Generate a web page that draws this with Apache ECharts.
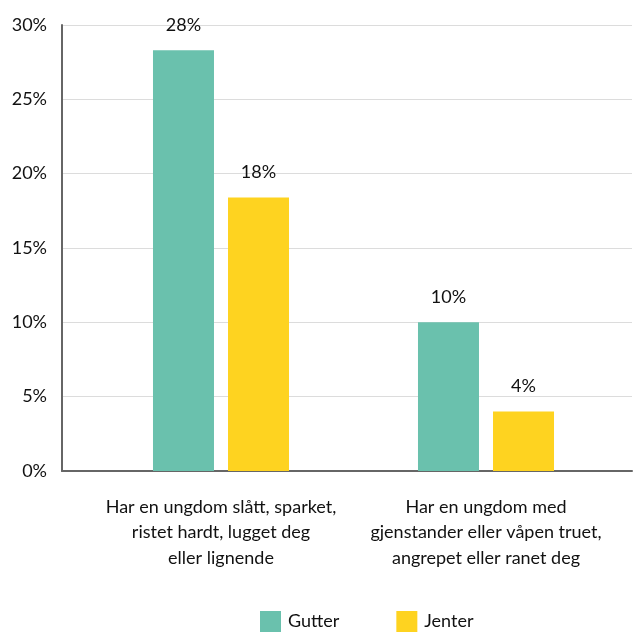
<!DOCTYPE html>
<html>
<head>
<meta charset="utf-8">
<script src="https://cdn.jsdelivr.net/npm/echarts@6/dist/echarts.min.js"></script>
<style>
	html, body { margin: 0; padding: 0; background: #fff; }
	#chart { width: 633px; height: 632px; }
</style>
</head>
<body>
<div id="chart"></div>
<script>
var categories = [
	'Har en ungdom slått, sparket,\nristet hardt, lugget deg\neller lignende',
	'Har en ungdom med\ngjenstander eller våpen truet,\nangrepet eller ranet deg'
];
var seriesNames = ['Gutter', 'Jenter'];
var gutter = [28.3, 10.0];
var jenter = [18.4, 4.0];
var yTicks = [0, 5, 10, 15, 20, 25, 30];

var font = 'Lato';
var textColor = '#111';

var chart = echarts.init(document.getElementById('chart'));

// grid 0: y-axis, gridlines and base line over full width
// grid 1: bars and category labels (narrower band)
var option = {
	animation: false,
	textStyle: { fontFamily: font },
	grid: [
		{ left: 62, right: 1, top: 25, bottom: 161 },
		{ left: 88.5, right: 14.5, top: 25, bottom: 161 }
	],
	legend: {
		data: seriesNames,
		top: 611,
		left: 260,
		padding: 0,
		itemWidth: 21,
		itemHeight: 21,
		itemGap: 57,
		icon: 'rect',
		textStyle: { fontFamily: font, fontSize: 18, color: textColor, padding: [0, 0, 0, 2] }
	},
	xAxis: [{
		gridIndex: 0,
		type: 'category',
		data: categories,
		axisLine: { show: true, lineStyle: { color: '#666', width: 2 } },
		axisTick: { show: false },
		axisLabel: { show: false }
	}, {
		gridIndex: 1,
		type: 'category',
		data: categories,
		axisLine: { show: false },
		axisTick: { show: false },
		axisLabel: {
			interval: 0,
			margin: 23,
			fontFamily: font,
			fontSize: 18,
			lineHeight: 25.5,
			color: textColor
		}
	}],
	yAxis: [{
		gridIndex: 0,
		type: 'value',
		min: yTicks[0],
		max: yTicks[yTicks.length - 1],
		interval: 5,
		axisLine: { show: true, lineStyle: { color: '#666', width: 2 } },
		axisTick: { show: false },
		axisLabel: {
			margin: 15,
			fontFamily: font,
			fontSize: 18,
			color: textColor,
			formatter: '{value}%'
		},
		splitLine: { show: true, lineStyle: { color: '#dcdcdc', width: 1 } }
	}, {
		gridIndex: 1,
		type: 'value',
		min: yTicks[0],
		max: yTicks[yTicks.length - 1],
		interval: 5,
		show: false
	}],
	series: [{
		name: seriesNames[0],
		type: 'bar',
		xAxisIndex: 1,
		yAxisIndex: 1,
		data: gutter,
		barWidth: 61,
		barGap: '23%',
		itemStyle: { color: '#6ac1ad' },
		label: {
			show: true,
			position: 'top',
			distance: 16,
			fontFamily: font,
			fontSize: 18,
			color: textColor,
			formatter: function(p) { return Math.round(p.value) + '%'; }
		}
	}, {
		name: seriesNames[1],
		type: 'bar',
		xAxisIndex: 1,
		yAxisIndex: 1,
		data: jenter,
		barWidth: 61,
		barGap: '23%',
		itemStyle: { color: '#fed320' },
		label: {
			show: true,
			position: 'top',
			distance: 16,
			fontFamily: font,
			fontSize: 18,
			color: textColor,
			formatter: function(p) { return Math.round(p.value) + '%'; }
		}
	}]
};

chart.setOption(option);
</script>
</body>
</html>
